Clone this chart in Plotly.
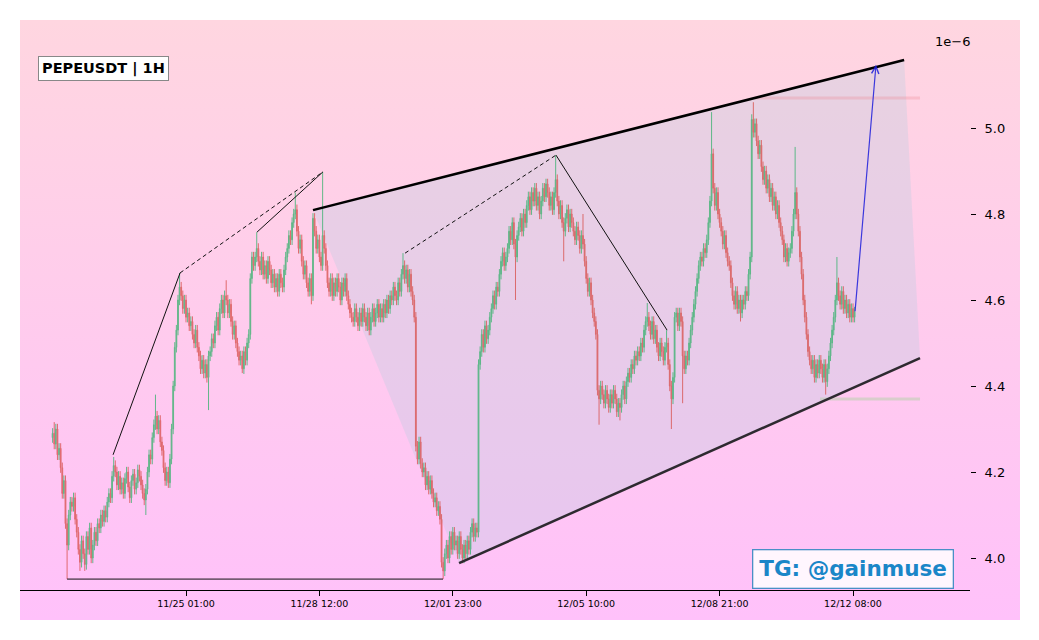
import base64
import plotly.graph_objects as go

# ---------------- data ----------------
# PEPEUSDT 1H closes, in units of 1e-9 USDT (index 0 = 11/21 14:00)
close_nano = [
    4290, 4265, 4300, 4240, 4255, 4210, 4150, 4180, 4080, 4030,
    4100, 4130, 4120, 4140, 4090, 4060, 4020, 3990, 4040, 4010,
    3985, 4050, 4020, 4070, 4000, 4030, 4060, 4040, 4080, 4070,
    4100, 4085, 4110, 4095, 4130, 4150, 4140, 4190, 4215, 4200,
    4170, 4190, 4160, 4175, 4150, 4185, 4200, 4165, 4140, 4180,
    4195, 4160, 4175, 4205, 4190, 4170, 4150, 4135, 4160, 4200,
    4240, 4230, 4280, 4310, 4330, 4300, 4320, 4270, 4250, 4210,
    4180, 4200, 4175, 4230, 4300, 4400, 4490, 4530, 4600, 4630,
    4610, 4580, 4600, 4560, 4570, 4540, 4550, 4520, 4500, 4530,
    4490, 4470, 4440, 4460, 4430, 4450, 4420, 4470, 4480, 4510,
    4500, 4540, 4560, 4530, 4580, 4600, 4570, 4610, 4600, 4570,
    4590, 4550, 4520, 4540, 4500, 4480, 4460, 4470, 4440, 4480,
    4460, 4500, 4520, 4650, 4700, 4680, 4700, 4720, 4690, 4670,
    4700, 4660, 4680, 4650, 4690, 4670, 4640, 4660, 4630, 4650,
    4620, 4660, 4640, 4630, 4670, 4700, 4720, 4750, 4740, 4780,
    4800, 4810, 4760, 4720, 4740, 4690, 4660, 4680, 4640, 4620,
    4650, 4610, 4790, 4760, 4720, 4740, 4700, 4680, 4750, 4720,
    4680, 4640, 4620, 4650, 4610, 4640, 4620, 4650, 4630, 4600,
    4640, 4620, 4650, 4610, 4590, 4570, 4560, 4550, 4580, 4560,
    4540, 4570, 4550, 4580, 4560, 4540, 4570, 4530, 4560, 4580,
    4550, 4570, 4590, 4560, 4580, 4560, 4590, 4570, 4600, 4580,
    4610, 4600, 4630, 4610, 4600, 4640, 4620, 4660, 4680, 4650,
    4670, 4630, 4660, 4620, 4600, 4560, 4260, 4230, 4270, 4220,
    4200, 4210, 4170, 4190, 4160, 4180, 4150, 4130, 4140, 4110,
    4120, 4090, 3990, 3970, 4010, 4030, 4000, 4050, 4020, 4060,
    4030, 4040, 4010, 4050, 4020, 4000, 4030, 4010, 4040, 4020,
    4060, 4080, 4050, 4070, 4060, 4450, 4480, 4520, 4490, 4540,
    4510, 4530, 4560, 4580, 4610, 4590, 4630, 4620, 4660, 4690,
    4710, 4680, 4700, 4720, 4760, 4740, 4780, 4730, 4700, 4750,
    4770, 4790, 4760, 4800, 4780, 4820, 4840, 4810, 4850, 4830,
    4860, 4820, 4840, 4800, 4830, 4860, 4840, 4870, 4850, 4820,
    4840, 4810, 4850, 4880, 4830, 4800, 4820, 4780, 4760, 4790,
    4810, 4770, 4800, 4780, 4760, 4740, 4770, 4750, 4720, 4750,
    4730, 4690, 4650, 4620, 4640, 4600, 4570, 4550, 4520, 4390,
    4370, 4400, 4380, 4360, 4390, 4370, 4350, 4380, 4360, 4390,
    4370, 4340, 4360, 4350, 4380, 4400, 4370, 4410, 4430, 4420,
    4450, 4440, 4470, 4460, 4480, 4470, 4500, 4490, 4530, 4550,
    4560, 4540, 4520, 4550, 4510, 4530, 4490, 4470, 4500, 4480,
    4460, 4490, 4500, 4450, 4400, 4370, 4420, 4560, 4570, 4540,
    4570, 4550, 4470, 4440, 4470, 4460, 4500, 4530, 4560, 4590,
    4620, 4650, 4680, 4700, 4690, 4720, 4710, 4740, 4780, 4830,
    4940, 4860, 4820, 4850, 4800, 4780, 4760, 4730, 4750, 4710,
    4690, 4680, 4640, 4610, 4590, 4620, 4580, 4600, 4570, 4600,
    4590, 4620, 4610, 4660, 4700, 5020, 4990, 5010, 4970, 4940,
    4960, 4910, 4880, 4900, 4860, 4880, 4840, 4860, 4820, 4840,
    4800, 4820, 4780, 4760, 4740, 4700, 4720, 4690, 4710, 4720,
    4760, 4800, 4850, 4800, 4760, 4700, 4660, 4600, 4560, 4520,
    4480, 4460, 4440, 4460, 4420, 4450, 4430, 4460, 4440, 4420,
    4450, 4410, 4440, 4470, 4500, 4530, 4560, 4600, 4640, 4610,
    4590, 4620, 4580, 4600, 4570, 4590, 4560, 4580, 4560, 4572,
]
first_open_nano = 4280
# notable wick extremes (candle index -> price, 1e-9 units)
spike_high_nano = {1: 4316, 38: 4235, 64: 4380, 79: 4663, 108: 4646, 127: 4758,
                   151: 4850, 168: 4898, 218: 4709, 313: 4937, 330: 4800,
                   370: 4593, 382: 4530, 410: 5037, 436: 5060, 462: 4956, 488: 4700}
spike_low_nano = {9: 3951, 17: 3970, 20: 3970, 58: 4100, 97: 4344, 118: 4430,
                  161: 4590, 243: 3951, 288: 4600, 318: 4690, 340: 4310,
                  353: 4320, 385: 4300, 392: 4360, 428: 4550, 481: 4380}
WICK_NANO = 12
PRICE_UNIT = 1e-9

tick_index = [83, 166, 249, 332, 415, 498]
tick_labels = ["11/25 01:00", "11/28 12:00", "12/01 23:00",
               "12/05 10:00", "12/08 21:00", "12/12 08:00"]
y_ticks = [4.0, 4.2, 4.4, 4.6, 4.8, 5.0]

# drawn trend lines: (candle index, price in 1e-6)
channel_upper_x, channel_upper_y = [162.0, 529.8], [4.809, 5.158]
channel_lower_x, channel_lower_y = [252.9, 539.7], [3.988, 4.465]
leg1_x, leg1_y = [37.6, 79.3], [4.240, 4.663]
leg1_dash_x, leg1_dash_y = [79.3, 168.2], [4.663, 4.898]
leg2_x, leg2_y = [127.2, 168.2], [4.758, 4.898]
base_x, base_y = [9.0, 242.9], [3.951, 3.951]
leg3_dash_x, leg3_dash_y = [219.3, 313.2], [4.709, 4.937]
leg3_x, leg3_y = [313.2, 382.3], [4.937, 4.530]
resist_x, resist_y = [437.0, 539.7], [5.070, 5.070]
support_x, support_y = [477.5, 539.7], [4.370, 4.370]
target_x, target_y = [499.2, 512.3], [4.570, 5.147]

# ---------------- build ----------------
n = len(close_nano)
open_nano = [first_open_nano] + close_nano[:-1]
high_nano, low_nano = [], []
for i in range(n):
    top = max(open_nano[i], close_nano[i])
    bot = min(open_nano[i], close_nano[i])
    high_nano.append(max(spike_high_nano.get(i, top + WICK_NANO), top))
    low_nano.append(min(spike_low_nano.get(i, bot - WICK_NANO), bot))


def to_e6(arr):
    return [v * PRICE_UNIT * 1e6 for v in arr]


GREEN = "#3cb371"
RED = "#d9534f"
FONT = "DejaVu Sans"

fig = go.Figure()
fig.add_trace(go.Candlestick(
    x=list(range(n)),
    open=to_e6(open_nano), high=to_e6(high_nano),
    low=to_e6(low_nano), close=to_e6(close_nano),
    increasing=dict(line=dict(color=GREEN, width=1), fillcolor=GREEN),
    decreasing=dict(line=dict(color=RED, width=1), fillcolor=RED),
    whiskerwidth=0, opacity=0.8, showlegend=False, hoverinfo="skip",
))

shapes = []
poly = [(channel_upper_x[0], channel_upper_y[0]), (channel_upper_x[1], channel_upper_y[1]),
        (channel_lower_x[1], channel_lower_y[1]), (channel_lower_x[0], channel_lower_y[0])]
path = "M " + " L ".join(f"{x},{y}" for x, y in poly) + " Z"
shapes.append(dict(type="path", path=path, xref="x", yref="y",
                   fillcolor="rgba(185,205,225,0.32)", line=dict(width=0), layer="below"))


def seg(xs, ys, color, width, dash="solid"):
    shapes.append(dict(type="line", xref="x", yref="y", x0=xs[0], y0=ys[0], x1=xs[1], y1=ys[1],
                       line=dict(color=color, width=width, dash=dash), layer="above"))


seg(resist_x, resist_y, "rgba(235,120,130,0.25)", 3)
seg(support_x, support_y, "rgba(170,210,160,0.45)", 3)
seg(leg1_x, leg1_y, "#111111", 1)
seg(leg1_dash_x, leg1_dash_y, "#111111", 1, "4px,3px")
seg(leg2_x, leg2_y, "#111111", 1)
seg(base_x, base_y, "#111111", 1)
seg(leg3_dash_x, leg3_dash_y, "#111111", 1, "4px,3px")
seg(leg3_x, leg3_y, "#111111", 1)
seg(channel_upper_x, channel_upper_y, "#000000", 2.5)
seg(channel_lower_x, channel_lower_y, "#2e2a30", 2.5)

svg = ('<svg xmlns="http://www.w3.org/2000/svg" width="100" height="100" viewBox="0 0 100 100" '
       'preserveAspectRatio="none"><defs><linearGradient id="g" x1="0" y1="0" x2="0" y2="1">'
       '<stop offset="0" stop-color="#ffd6e0"/><stop offset="1" stop-color="#ffc1fa"/>'
       '</linearGradient></defs><rect width="100" height="100" fill="url(#g)"/></svg>')
bg_src = "data:image/svg+xml;base64," + base64.b64encode(svg.encode()).decode()

annotations = [
    dict(text="<b>PEPEUSDT | 1H</b>", xref="paper", yref="paper", x=0.0879, y=0.9149,
         xanchor="center", yanchor="middle", showarrow=False,
         font=dict(family=FONT, size=14.5, color="black"),
         bgcolor="white", bordercolor="#888888", borderwidth=1, borderpad=3),
    dict(text="<b>TG: @gainmuse</b>", xref="paper", yref="paper", x=0.8768, y=0.0377,
         xanchor="center", yanchor="middle", showarrow=False,
         font=dict(family=FONT, size=21.5, color="#1a86c8"),
         bgcolor="rgba(255,255,255,0.85)", bordercolor="#4a8fc6", borderwidth=1.3, borderpad=6),
    dict(text="1e\u22126", xref="paper", yref="paper", x=0.961, y=0.963,
         xanchor="left", yanchor="middle", showarrow=False,
         font=dict(family=FONT, size=13, color="black")),
    dict(x=target_x[1], y=target_y[1], ax=target_x[0], ay=target_y[0],
         xref="x", yref="y", axref="x", ayref="y", text="", showarrow=True,
         arrowhead=5, arrowsize=1.2, arrowwidth=1.2, arrowcolor="rgba(30,30,220,0.85)"),
]

fig.update_layout(
    width=1039, height=640,
    margin=dict(l=20, r=69, t=20, b=50),
    paper_bgcolor="white", plot_bgcolor="rgba(0,0,0,0)",
    font=dict(family=FONT, color="black"),
    shapes=shapes, annotations=annotations,
    images=[dict(source=bg_src, xref="paper", yref="paper", x=0, y=1,
                 sizex=1000 / 950, sizey=600 / 570, sizing="stretch",
                 xanchor="left", yanchor="top", layer="below")],
    xaxis=dict(range=[-20.3, 570.8], tickmode="array", tickvals=tick_index, ticktext=tick_labels,
               ticks="outside", ticklen=5, tickcolor="black", showline=True, linecolor="black",
               linewidth=1, showgrid=False, zeroline=False, rangeslider=dict(visible=False),
               tickfont=dict(family=FONT, size=9.5, color="black")),
    yaxis=dict(side="right", range=[3.9256, 5.2512], tickmode="array", tickvals=y_ticks,
               ticktext=[f"{v:.1f}" for v in y_ticks], ticks="outside", ticklen=5,
               ticklabelstandoff=6,
               tickcolor="black", showline=False, showgrid=False, zeroline=False,
               tickfont=dict(family=FONT, size=13, color="black")),
)

fig.write_html("out.html", config={"displayModeBar": False},
               post_script="document.body.style.margin='0';document.body.style.overflow='hidden';")
